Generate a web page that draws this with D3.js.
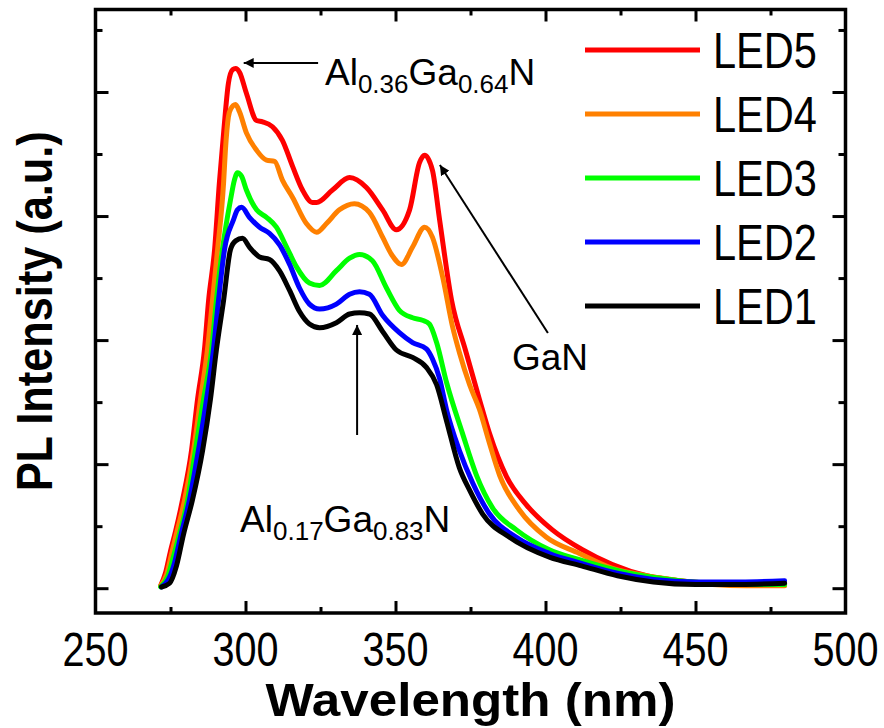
<!DOCTYPE html>
<html>
<head>
<meta charset="utf-8">
<script src="https://cdnjs.cloudflare.com/ajax/libs/d3/7.8.5/d3.min.js"></script>
<style>
  body { margin: 0; background: #fff; }
  svg { display: block; font-family: "Liberation Sans", Arial, sans-serif; }
</style>
</head>
<body>
<svg id="chart" width="884" height="728"></svg>
<script>
// DATA: [wavelength (nm), PL intensity (a.u.)]
const led5 = [
  [271.7, 0.02], [273.3, 0.12], [275.0, 0.30], [276.7, 0.46], [279.0, 0.71], [282.0, 1.11],
  [284.0, 1.52], [286.3, 1.92], [287.7, 2.32], [289.7, 2.73], [291.3, 3.27], [292.7, 3.67],
  [294.3, 4.07], [295.7, 4.18], [296.7, 4.19], [298.0, 4.16], [300.3, 3.99], [303.7, 3.77],
  [305.7, 3.76], [309.0, 3.72], [312.3, 3.61], [315.7, 3.40], [319.0, 3.21], [322.3, 3.11],
  [323.7, 3.11], [329.0, 3.21], [334.7, 3.31], [340.3, 3.23], [345.7, 3.05], [350.3, 2.89],
  [354.7, 3.05], [358.0, 3.43], [359.7, 3.49], [362.3, 3.37], [364.7, 2.97], [368.7, 2.32],
  [373.3, 1.92], [378.0, 1.52], [381.3, 1.25], [387.0, 0.90], [393.7, 0.67], [402.3, 0.47],
  [412.3, 0.31], [422.3, 0.19], [433.7, 0.10], [444.7, 0.06], [455.7, 0.04], [467.0, 0.04],
  [479.7, 0.04]
];
const led4 = [
  [271.7, 0.02], [273.7, 0.11], [275.3, 0.27], [277.0, 0.44], [279.7, 0.71], [282.7, 1.11],
  [285.0, 1.52], [287.3, 1.92], [289.0, 2.32], [290.7, 2.73], [292.7, 3.27], [293.3, 3.53],
  [294.3, 3.80], [295.0, 3.86], [296.7, 3.90], [298.0, 3.84], [300.3, 3.67], [303.7, 3.53],
  [307.0, 3.45], [309.7, 3.44], [312.3, 3.29], [315.7, 3.15], [320.3, 2.94], [323.7, 2.87],
  [327.0, 2.94], [331.3, 3.05], [336.3, 3.10], [341.3, 3.03], [345.7, 2.83], [348.7, 2.69],
  [352.0, 2.61], [355.7, 2.75], [359.7, 2.91], [362.3, 2.83], [365.7, 2.51], [369.0, 2.11],
  [371.3, 1.90], [374.7, 1.64], [378.0, 1.44], [381.3, 1.17], [384.7, 0.91], [391.3, 0.63],
  [400.3, 0.41], [411.3, 0.28], [422.3, 0.16], [433.7, 0.10], [444.7, 0.06], [455.7, 0.03],
  [467.0, 0.02], [479.7, 0.02]
];
const led3 = [
  [271.7, 0.01], [274.0, 0.09], [275.7, 0.23], [277.7, 0.41], [280.7, 0.71], [283.3, 1.11],
  [286.0, 1.52], [288.7, 1.92], [290.3, 2.32], [292.3, 2.73], [295.0, 3.13], [296.3, 3.29],
  [297.3, 3.35], [298.7, 3.32], [300.3, 3.21], [303.7, 3.05], [307.0, 2.99], [310.3, 2.91],
  [313.7, 2.75], [317.0, 2.59], [321.3, 2.46], [324.7, 2.44], [330.3, 2.56], [334.7, 2.66],
  [338.0, 2.69], [342.3, 2.64], [347.0, 2.42], [351.3, 2.24], [355.7, 2.18], [359.0, 2.16],
  [361.3, 2.13], [363.7, 1.98], [367.0, 1.66], [372.3, 1.25], [377.0, 0.91], [382.3, 0.65],
  [390.3, 0.47], [401.3, 0.31], [411.3, 0.23], [428.0, 0.12], [444.7, 0.06], [455.7, 0.04],
  [467.0, 0.03], [479.7, 0.03]
];
const led2 = [
  [272.0, 0.01], [274.3, 0.07], [276.3, 0.20], [278.3, 0.41], [281.3, 0.71], [284.3, 1.11],
  [287.0, 1.52], [289.3, 1.92], [291.0, 2.32], [293.0, 2.73], [296.0, 2.97], [297.3, 3.05],
  [298.7, 3.07], [301.3, 2.99], [304.7, 2.91], [308.0, 2.86], [311.3, 2.77], [314.7, 2.61],
  [318.0, 2.42], [321.3, 2.29], [324.7, 2.25], [330.3, 2.29], [334.7, 2.37], [338.0, 2.39],
  [341.3, 2.37], [345.7, 2.20], [351.3, 2.06], [355.7, 1.98], [360.3, 1.93], [362.3, 1.85],
  [364.7, 1.69], [367.0, 1.44], [371.3, 1.11], [375.7, 0.85], [381.3, 0.60], [390.3, 0.41],
  [401.3, 0.28], [412.0, 0.20], [424.0, 0.12], [436.0, 0.07], [450.0, 0.05], [465.0, 0.05],
  [479.7, 0.06]
];
const led1 = [
  [272.0, 0.01], [274.7, 0.04], [277.0, 0.18], [279.3, 0.43], [282.3, 0.71], [285.7, 1.11],
  [288.3, 1.52], [290.3, 1.92], [292.7, 2.32], [295.0, 2.73], [296.7, 2.80], [299.0, 2.82],
  [301.3, 2.75], [304.7, 2.67], [308.0, 2.65], [311.3, 2.56], [314.7, 2.40], [318.0, 2.23],
  [321.3, 2.13], [324.7, 2.10], [330.3, 2.14], [334.7, 2.21], [338.0, 2.22], [341.3, 2.21],
  [345.7, 2.07], [350.3, 1.92], [355.7, 1.86], [360.3, 1.78], [363.7, 1.64], [367.0, 1.35],
  [371.3, 0.97], [374.7, 0.79], [379.0, 0.60], [388.0, 0.41], [401.3, 0.25], [412.0, 0.18],
  [424.0, 0.10], [436.0, 0.05], [450.0, 0.03], [465.0, 0.03], [479.7, 0.04]
];

const seriesNames = ['LED5', 'LED4', 'LED3', 'LED2', 'LED1'];
const seriesData = [led5, led4, led3, led2, led1];
const seriesColors = ['#ff0000', '#ff8000', '#00ff00', '#0000ff', '#000000'];

const xMajor = [300, 350, 400, 450];
const xMinor = [275, 325, 375, 425, 475];
const xLabels = [250, 300, 350, 400, 450, 500];
const yMajor = [0, 1, 2, 3, 4];
const yMinor = [0.5, 1.5, 2.5, 3.5, 4.5];

//SETUP
const svg = d3.select('#chart');
const plot = { left: 95.5, right: 845.5, top: 9.5, bottom: 613 };

//SCALES
const xScale = d3.scaleLinear().domain([250, 500]).range([plot.left, plot.right]);
const yScale = d3.scaleLinear().domain([-0.2, 4.665]).range([plot.bottom, plot.top]);

//TICKS (inward, all four sides)
function tickAxis(axis, transform, size) {
  svg.append('g')
    .attr('transform', transform)
    .call(axis.tickSize(size).tickFormat(''))
    .call((g) => g.select('.domain').remove())
    .call((g) => g.selectAll('line').attr('stroke', '#000').attr('stroke-width', 3));
}
tickAxis(d3.axisBottom(xScale).tickValues(xMajor), `translate(0,${plot.bottom})`, -12);
tickAxis(d3.axisBottom(xScale).tickValues(xMinor), `translate(0,${plot.bottom})`, -6);
tickAxis(d3.axisTop(xScale).tickValues(xMajor), `translate(0,${plot.top})`, -12);
tickAxis(d3.axisTop(xScale).tickValues(xMinor), `translate(0,${plot.top})`, -6);
tickAxis(d3.axisLeft(yScale).tickValues(yMajor), `translate(${plot.left},0)`, -13);
tickAxis(d3.axisLeft(yScale).tickValues(yMinor), `translate(${plot.left},0)`, -7);
tickAxis(d3.axisRight(yScale).tickValues(yMajor), `translate(${plot.right},0)`, -13);
tickAxis(d3.axisRight(yScale).tickValues(yMinor), `translate(${plot.right},0)`, -7);

//LINES
const line = d3.line()
  .x((d) => xScale(d[0]))
  .y((d) => yScale(d[1]))
  .curve(d3.curveMonotoneX);

svg.append('g')
  .selectAll('path')
  .data(seriesData)
  .join('path')
  .attr('d', line)
  .attr('fill', 'none')
  .attr('stroke', (d, i) => seriesColors[i])
  .attr('stroke-width', 5)
  .attr('stroke-linejoin', 'round')
  .attr('stroke-linecap', 'round');

//FRAME
svg.append('rect')
  .attr('x', plot.left)
  .attr('y', plot.top)
  .attr('width', plot.right - plot.left)
  .attr('height', plot.bottom - plot.top)
  .attr('fill', 'none')
  .attr('stroke', '#000')
  .attr('stroke-width', 3.5);

//TICK LABELS
svg.append('g')
  .selectAll('text')
  .data(xLabels)
  .join('text')
  .attr('x', (d) => xScale(d))
  .attr('y', 666)
  .attr('text-anchor', 'middle')
  .attr('font-size', 48)
  .attr('textLength', 66)
  .attr('lengthAdjust', 'spacingAndGlyphs')
  .text((d) => d);

//AXIS TITLES
svg.append('text')
  .attr('x', (plot.left + plot.right) / 2)
  .attr('y', 716)
  .attr('text-anchor', 'middle')
  .attr('font-size', 46)
  .attr('font-weight', 'bold')
  .attr('textLength', 410)
  .attr('lengthAdjust', 'spacingAndGlyphs')
  .text('Wavelength (nm)');

svg.append('text')
  .attr('transform', `translate(52,${(plot.top + plot.bottom) / 2}) rotate(-90)`)
  .attr('text-anchor', 'middle')
  .attr('font-size', 50)
  .attr('font-weight', 'bold')
  .attr('textLength', 360)
  .attr('lengthAdjust', 'spacingAndGlyphs')
  .text('PL Intensity (a.u.)');

//LEGEND
const legend = svg.append('g').attr('transform', 'translate(585,50)');
seriesNames.forEach((name, i) => {
  const row = legend.append('g').attr('transform', `translate(0,${i * 64})`);
  row.append('line')
    .attr('x1', 0).attr('x2', 115)
    .attr('stroke', seriesColors[i])
    .attr('stroke-width', 5);
  row.append('text')
    .attr('x', 128)
    .attr('y', 18)
    .attr('font-size', 50)
    .attr('textLength', 104)
    .attr('lengthAdjust', 'spacingAndGlyphs')
    .text(name);
});

//ANNOTATIONS
svg.append('defs').append('marker')
  .attr('id', 'head')
  .attr('viewBox', '0 0 10 10')
  .attr('refX', 10).attr('refY', 5)
  .attr('markerWidth', 5).attr('markerHeight', 5)
  .attr('markerUnits', 'strokeWidth')
  .attr('orient', 'auto')
  .append('path')
  .attr('d', 'M0,0L10,5L0,10Z')
  .attr('fill', '#000');

const arrows = [
  { from: [324.2, 4.234], to: [299.4, 4.234] },
  { from: [400.8, 2.057], to: [364.8, 3.411] },
  { from: [337.2, 1.235], to: [337.2, 2.122] }
];
svg.append('g')
  .selectAll('line')
  .data(arrows)
  .join('line')
  .attr('x1', (d) => xScale(d.from[0]))
  .attr('y1', (d) => yScale(d.from[1]))
  .attr('x2', (d) => xScale(d.to[0]))
  .attr('y2', (d) => yScale(d.to[1]))
  .attr('stroke', '#000')
  .attr('stroke-width', 2)
  .attr('marker-end', 'url(#head)');

function chemLabel(x, y, parts) {
  const t = svg.append('text')
    .attr('x', xScale(x))
    .attr('y', yScale(y))
    .attr('font-size', 37);
  parts.forEach((p) => {
    t.append('tspan')
      .attr('font-size', p.sub ? 26 : 37)
      .attr('dy', p.sub ? 8 : p.back ? -8 : 0)
      .text(p.t);
  });
}
chemLabel(326.5, 4.056, [
  { t: 'Al' }, { t: '0.36', sub: true }, { t: 'Ga', back: true },
  { t: '0.64', sub: true }, { t: 'N', back: true }
]);
chemLabel(298.2, 0.453, [
  { t: 'Al' }, { t: '0.17', sub: true }, { t: 'Ga', back: true },
  { t: '0.83', sub: true }, { t: 'N', back: true }
]);
svg.append('text')
  .attr('x', xScale(388.8))
  .attr('y', yScale(1.759))
  .attr('font-size', 37)
  .text('GaN');
</script>
</body>
</html>
